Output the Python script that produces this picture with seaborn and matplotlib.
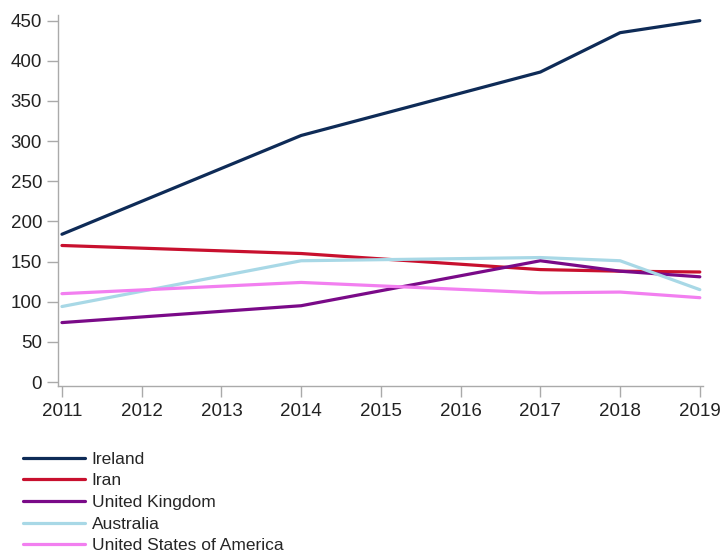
import pandas as pd
import matplotlib.pyplot as plt
import seaborn as sns

#  Values (points at 2011, 2014, 2017, 2018, 2019)

years = [2011, 2014, 2017, 2018, 2019]
countries = ["Ireland", "Iran", "United Kingdom", "Australia", "United States of America"]
ireland = [184, 307, 386, 435, 450]
iran = [170, 160, 140, 138, 137]
uk = [74, 95, 151, 138, 131]
australia = [94, 151, 155, 151, 115]
usa = [110, 124, 111, 112, 105]
colors = ["#0e2b57", "#c8102e", "#7a0a88", "#a8d8e6", "#f27ff0"]

rows = []
for name, vals in zip(countries, [ireland, iran, uk, australia, usa]):
    for yr, v in zip(years, vals):
        rows.append({"Year": yr, "Value": v, "Country": name})
df = pd.DataFrame(rows)

sns.set_style("white")
plt.rcParams["font.family"] = ["Liberation Sans", "DejaVu Sans"]

fig = plt.figure(figsize=(7.22, 5.54), dpi=100)
ax = fig.add_axes([0.0803, 0.3032, 0.8934, 0.6697])
sns.lineplot(data=df, x="Year", y="Value", hue="Country", hue_order=countries,
             palette=dict(zip(countries, colors)), linewidth=2.3, ax=ax, legend=True)

ax.set_xlim(2010.95, 2019.04)
ax.set_ylim(-5, 457)
ax.set_xticks(range(2011, 2020))
ax.set_yticks(range(0, 451, 50))
ax.set_xlabel("")
ax.set_ylabel("")
ax.tick_params(axis="both", labelsize=13.5, colors="#aaaaaa", labelcolor="#222222",
               length=8, width=1, direction="out", left=True, bottom=True)
ax.tick_params(axis="x", pad=4.5)
for side in ["top", "right"]:
    ax.spines[side].set_visible(False)
for side in ["left", "bottom"]:
    ax.spines[side].set_color("#aaaaaa")
    ax.spines[side].set_linewidth(1)

handles, labels = ax.get_legend_handles_labels()
ax.get_legend().remove()
leg = fig.legend(handles, labels, loc="upper left", bbox_to_anchor=(0.032, 0.1846),
                 frameon=False, fontsize=12.5, handlelength=3.55, handletextpad=0.4,
                 labelspacing=0.37, borderpad=0, borderaxespad=0)
for line in leg.get_lines():
    line.set_linewidth(2.3)

fig.savefig("out.png", dpi=100)
